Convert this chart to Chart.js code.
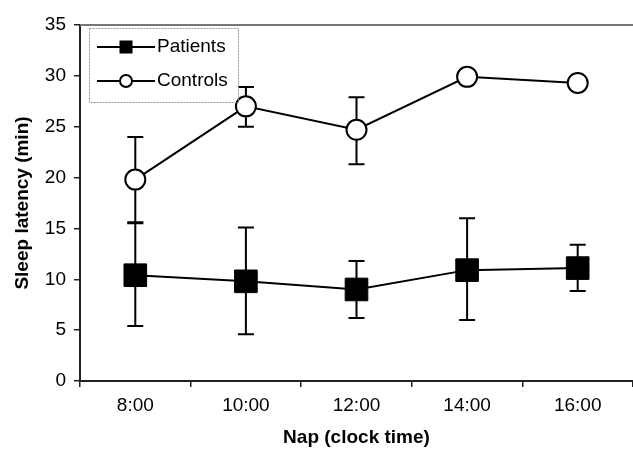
<!DOCTYPE html>
<html>
<head>
<meta charset="utf-8">
<script src="https://cdn.jsdelivr.net/npm/chart.js@4.4.1/dist/chart.umd.min.js"></script>
<style>
  html, body { margin: 0; padding: 0; background: #fff; }
  canvas { display: block; }
</style>
</head>
<body>
<canvas id="c" width="633" height="453"></canvas>
<script>
// ---- data ----
const categories = ['8:00', '10:00', '12:00', '14:00', '16:00'];
const seriesNames = ['Patients', 'Controls'];
const patientsMean  = [10.4, 9.8, 9.0, 10.9, 11.1];
const patientsUpper = [15.5, 15.1, 11.8, 16.0, 13.4];
const patientsLower = [5.4, 4.6, 6.2, 6.0, 8.85];
const controlsMean  = [19.8, 27.0, 24.7, 29.9, 29.3];
const controlsUpper = [24.0, 28.9, 27.9, null, null];
const controlsLower = [15.6, 25.0, 21.3, null, null];
const yMin = 0, yMax = 35, yStep = 5;

const FONT = "'Liberation Sans', Arial, sans-serif";

const errorBars = {
  id: 'errorBars',
  beforeDatasetsDraw(chart) {
    const ctx = chart.ctx;
    const xs = chart.scales.x, ys = chart.scales.y;
    const sets = [[patientsUpper, patientsLower], [controlsUpper, controlsLower]];
    ctx.save();
    ctx.strokeStyle = '#000';
    ctx.lineWidth = 2;
    sets.forEach(([up, lo]) => {
      up.forEach((u, i) => {
        const l = lo[i];
        if (u == null || l == null) return;
        const x = xs.getPixelForValue(i);
        const y1 = ys.getPixelForValue(u), y2 = ys.getPixelForValue(l);
        ctx.beginPath();
        ctx.moveTo(x, y1); ctx.lineTo(x, y2);
        ctx.moveTo(x - 8, y1); ctx.lineTo(x + 8, y1);
        ctx.moveTo(x - 8, y2); ctx.lineTo(x + 8, y2);
        ctx.stroke();
      });
    });
    ctx.restore();
  }
};

const frame = {
  id: 'frame',
  afterDraw(chart) {
    const ctx = chart.ctx, a = chart.chartArea;
    ctx.save();
    // top border
    ctx.strokeStyle = '#777';
    ctx.lineWidth = 2;
    ctx.beginPath();
    ctx.moveTo(a.left, a.top); ctx.lineTo(chart.width, a.top);
    ctx.stroke();
    // legend
    const bx = a.left + 9, by = a.top + 3, bw = 149, bh = 74;
    ctx.strokeStyle = '#999';
    ctx.lineWidth = 1;
    ctx.setLineDash([2, 1]);
    ctx.strokeRect(bx + 0.5, by + 0.5, bw, bh);
    ctx.setLineDash([]);
    const rows = [by + 19, by + 53];
    rows.forEach((ry, k) => {
      ctx.strokeStyle = '#000';
      ctx.lineWidth = 2;
      ctx.beginPath();
      ctx.moveTo(bx + 8, ry); ctx.lineTo(bx + 66, ry);
      ctx.stroke();
      const mx = bx + 37;
      if (k === 0) {
        ctx.fillStyle = '#000';
        ctx.fillRect(mx - 6.5, ry - 6.5, 13, 13);
      } else {
        ctx.fillStyle = '#fff';
        ctx.beginPath();
        ctx.arc(mx, ry, 6, 0, Math.PI * 2);
        ctx.fill();
        ctx.stroke();
      }
      ctx.fillStyle = '#000';
      ctx.font = '19px ' + FONT;
      ctx.textBaseline = 'middle';
      ctx.textAlign = 'left';
      ctx.fillText(seriesNames[k], bx + 68, ry);
    });
    ctx.restore();
  }
};

new Chart(document.getElementById('c'), {
  type: 'line',
  data: {
    labels: categories,
    datasets: [
      {
        label: seriesNames[0],
        data: patientsMean,
        borderColor: '#000',
        borderWidth: 2,
        pointStyle: 'rect',
        pointRadius: 16,
        pointBackgroundColor: '#000',
        pointBorderColor: '#000',
        pointBorderWidth: 1,
        tension: 0
      },
      {
        label: seriesNames[1],
        data: controlsMean,
        borderColor: '#000',
        borderWidth: 2,
        pointStyle: 'circle',
        pointRadius: 10,
        pointBackgroundColor: '#fff',
        pointBorderColor: '#000',
        pointBorderWidth: 2,
        tension: 0
      }
    ]
  },
  options: {
    responsive: false,
    animation: false,
    devicePixelRatio: 1,
    layout: { autoPadding: false, padding: { top: 25, right: -2, left: 0, bottom: 0 } },
    plugins: { legend: { display: false }, tooltip: { enabled: false } },
    scales: {
      x: {
        type: 'category',
        offset: true,
        grid: { display: true, drawOnChartArea: false, offset: true, tickLength: 6, color: '#222', lineWidth: 1.5 },
        border: { display: true, color: '#222', width: 2 },
        ticks: { font: { family: FONT, size: 19 }, color: '#000', padding: 7, maxRotation: 0 },
        title: { display: true, text: 'Nap (clock time)', color: '#000', font: { family: FONT, size: 19, weight: 'bold' }, padding: { top: 2, bottom: 4 } },
        afterFit(s) { s.height = 72; }
      },
      y: {
        min: yMin, max: yMax,
        ticks: { stepSize: yStep, font: { family: FONT, size: 19 }, color: '#000', padding: 8 },
        grid: { display: true, drawOnChartArea: false, tickLength: 6, color: '#222', lineWidth: 1.5 },
        border: { display: true, color: '#222', width: 2 },
        title: { display: true, text: 'Sleep latency (min)', color: '#000', font: { family: FONT, size: 19, weight: 'bold' }, padding: { top: 11, bottom: 2 } },
        afterFit(s) { s.width = 80; }
      }
    }
  },
  plugins: [errorBars, frame]
});
</script>
</body>
</html>
